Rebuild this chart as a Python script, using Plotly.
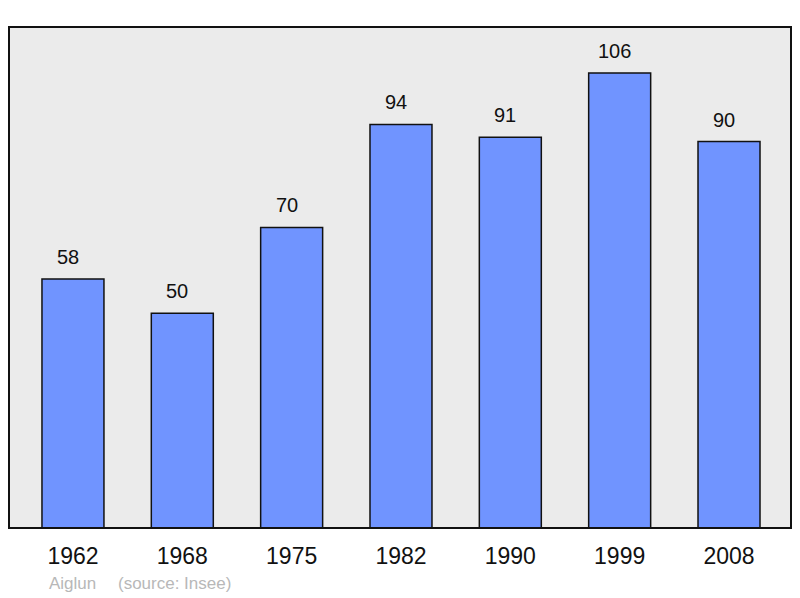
import plotly.graph_objects as go

years = ["1962", "1968", "1975", "1982", "1990", "1999", "2008"]
population = [58, 50, 70, 94, 91, 106, 90]
caption = "Aiglun\u2002\u2002\u00a0(source: Insee)"

xs = list(range(len(years)))
FONT = "Liberation Sans, Arial, sans-serif"

fig = go.Figure()
fig.add_trace(go.Bar(
    x=xs, y=population, width=0.567,
    marker=dict(color="#7094ff", line=dict(color="#111111", width=1.5)),
    hoverinfo="skip",
))

annotations = [dict(x=x, y=v, text=str(v), xref="x", yref="y", showarrow=False,
                    yanchor="bottom", yshift=9, xshift=-5,
                    font=dict(size=20, color="#111111", family=FONT))
               for x, v in zip(xs, population)]
annotations.append(dict(text=caption, xref="paper", yref="paper", x=0.0486, y=-0.11,
                        xanchor="left", yanchor="middle", showarrow=False,
                        font=dict(size=17, color="#b8b8b8", family=FONT)))

fig.update_layout(
    width=800, height=598,
    margin=dict(l=9, r=9, t=27, b=70),
    paper_bgcolor="white", plot_bgcolor="#ebebeb",
    showlegend=False,
    font=dict(family=FONT),
    xaxis=dict(range=[-0.585, 6.567], tickvals=xs, ticktext=years,
               tickfont=dict(size=23, color="#111111"), showgrid=False,
               zeroline=False, ticks="", ticklabelstandoff=12, fixedrange=True),
    yaxis=dict(range=[0, 116.7], showgrid=False, zeroline=False,
               showticklabels=False, ticks="", fixedrange=True),
    shapes=[dict(type="rect", xref="paper", yref="paper", x0=0, x1=1, y0=0, y1=1,
                 line=dict(color="#111111", width=2), layer="above")],
    annotations=annotations,
)

fig.write_html("out.html", config={"displayModeBar": False},
               post_script="document.body.style.margin='0';document.body.style.padding='0';")
